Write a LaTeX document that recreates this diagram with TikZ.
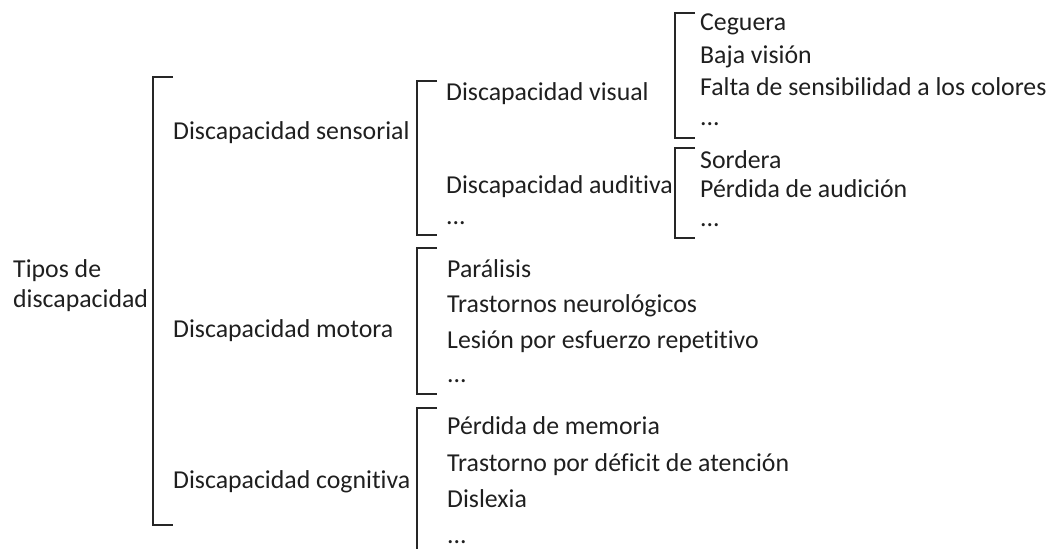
\documentclass[tikz,border=0pt]{standalone}
\usepackage{fontspec}
\setmainfont{Carlito}[Ligatures={NoCommon,TeX}]
\begin{document}
\begin{tikzpicture}[x=1pt,y=-1pt,
  lbl/.style={anchor=base west,inner sep=0pt,text=black!88,font=\fontsize{25.8}{30}\selectfont},
  brk/.style={draw=black!85,line width=1.6pt,line join=miter}]
\useasboundingbox (0,0) rectangle (1052,549);
% level 0
\node[lbl] (tipos) at (13,277) {Tipos de};
\node[lbl] (disc) at (13,307) {discapacidad};
% main bracket
\draw[brk] (173,77) -- (153,77) -- (153,525) -- (173,525);
% level 1
\node[lbl] (sens) at (173,139) {Discapacidad sensorial};
\node[lbl] (mot) at (173,337) {Discapacidad motora};
\node[lbl] (cog) at (173,488) {Discapacidad cognitiva};
% sensorial bracket
\draw[brk] (437,81) -- (417,81) -- (417,235) -- (437,235);
\node[lbl] (vis) at (446,100) {Discapacidad visual};
\node[lbl] (aud) at (446,193) {Discapacidad auditiva};
\node[lbl] (sdots) at (446,224) {...};
% visual bracket
\draw[brk] (695,13) -- (675,13) -- (675,138) -- (695,138);
\node[lbl] (ceg) at (700,30) {Ceguera};
\node[lbl] (baja) at (700,63) {Baja visión};
\node[lbl] (falta) at (700,95) {Falta de sensibilidad a los colores};
\node[lbl] (vdots) at (700,125) {...};
% auditiva bracket
\draw[brk] (695,148) -- (675,148) -- (675,238) -- (695,238);
\node[lbl] (sord) at (700,168) {Sordera};
\node[lbl] (perd) at (700,197) {Pérdida de audición};
\node[lbl] (adots) at (700,226) {...};
% motora bracket
\draw[brk] (437,248) -- (417,248) -- (417,394) -- (437,394);
\node[lbl] (par) at (447,277) {Parálisis};
\node[lbl] (tras) at (447,312) {Trastornos neurológicos};
\node[lbl] (les) at (447,348) {Lesión por esfuerzo repetitivo};
\node[lbl] (mdots) at (447,382) {...};
% cognitiva bracket
\draw[brk] (437,408) -- (417,408) -- (417,549);
\node[lbl] (mem) at (447,434) {Pérdida de memoria};
\node[lbl] (tda) at (447,471) {Trastorno por déficit de atención};
\node[lbl] (dis) at (447,507) {Dislexia};
\node[lbl] (cdots) at (447,543) {...};
\end{tikzpicture}
\end{document}
